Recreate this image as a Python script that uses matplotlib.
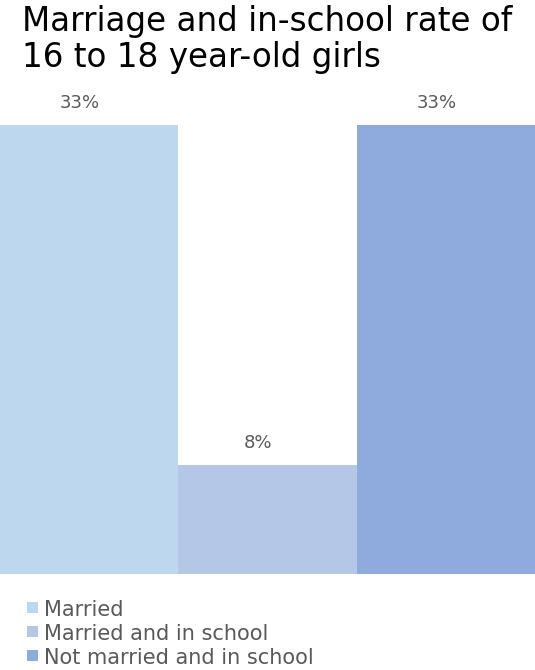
import matplotlib
matplotlib.use("Agg")
import matplotlib.pyplot as plt
from matplotlib.patches import Rectangle

categories = ["Married", "Married and in school", "Not married and in school"]
values = [33, 8, 33]
labels = ["33%", "8%", "33%"]
colors = ["#BDD7EE", "#B4C7E7", "#8FAADC"]

W, H = 535, 670
fig = plt.figure(figsize=(W / 100, H / 100), dpi=100)

# plot area in pixels: full width, from y=90 down to y=574
top_px, bot_px = 90, 574
ax = fig.add_axes([0, 1 - bot_px / H, 1, (bot_px - top_px) / H])
ymax = 33 * (bot_px - top_px) / (bot_px - 125)
ax.set_xlim(-0.5, len(values) - 0.5)
ax.set_ylim(0, ymax)
ax.axis("off")

x = list(range(len(values)))
ax.bar(x, values, width=1.0, color=colors, edgecolor="none")
for xi, v, lab in zip(x, values, labels):
    ax.annotate(lab, xy=(xi, v), xytext=(-6.5, 16), textcoords="offset points",
                ha="center", va="center", fontsize=13,
                color="#595959", family="DejaVu Sans")

fig.text(22 / W, 1 - 5 / H, "Marriage and in-school rate of\n16 to 18 year-old girls",
         ha="left", va="top", fontsize=23.5, color="#000000", family="DejaVu Sans",
         linespacing=1.1)

# legend
for i, (cat, col) in enumerate(zip(categories, colors)):
    yc = 609 + 24 * i
    fig.patches.append(Rectangle((27 / W, 1 - (yc + 4) / H), 11 / W, 11 / H,
                                 transform=fig.transFigure, facecolor=col,
                                 edgecolor="none"))
    fig.text(44 / W, 1 - (yc + 1) / H, cat, ha="left", va="center", fontsize=15,
             color="#595959", family="DejaVu Sans")

fig.savefig("out.png", dpi=100)
